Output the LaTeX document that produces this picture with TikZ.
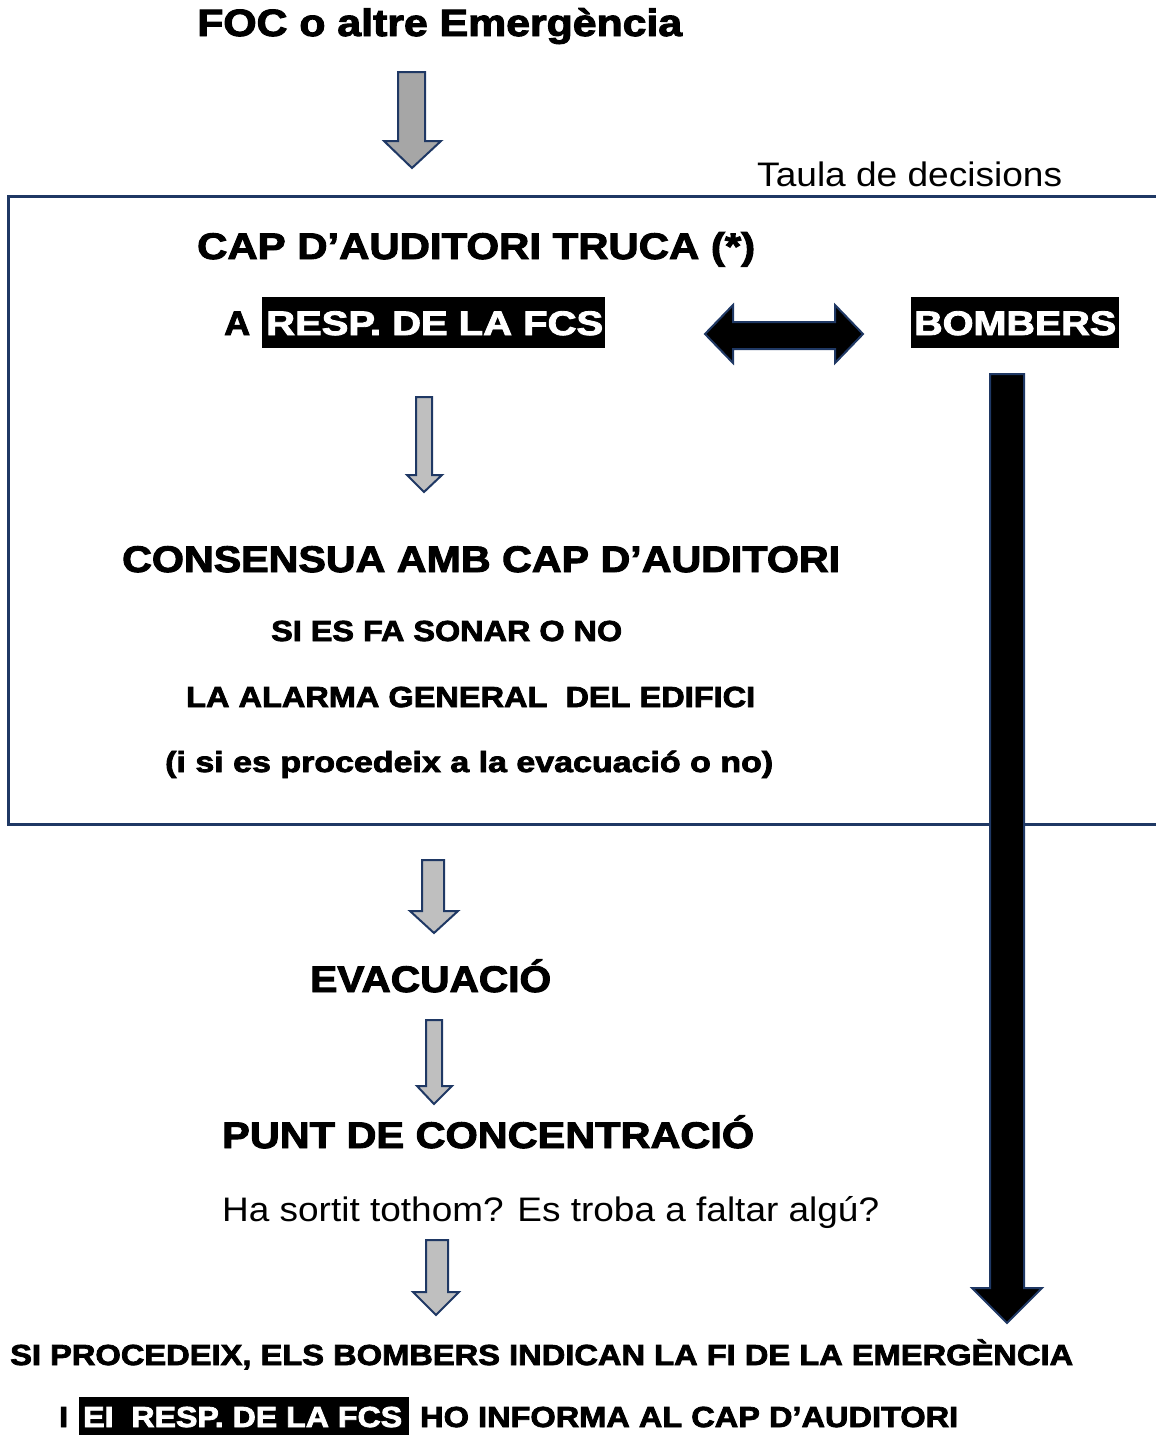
\documentclass[tikz,border=0pt]{standalone}
\usepackage{fontspec}
\setmainfont{Liberation Sans}
\newfontfamily\blk{Liberation Sans}[BoldFeatures={FakeBold=2.5}]
\newlength\fwlen
\newcommand\fw[2]{\settowidth\fwlen{#2}\pgfmathsetmacro\fwsx{#1/\fwlen}\scalebox{\fwsx}[1]{#2}}
\definecolor{navy}{HTML}{1F3864}
\definecolor{grayA}{HTML}{A6A6A6}
\definecolor{grayB}{HTML}{BFBFBF}
\tikzset{
  txt/.style={inner sep=0pt, anchor=base west, font=\blk\bfseries},
  reg/.style={inner sep=0pt, anchor=base west, font=\rmfamily},
  grayarrow/.style={fill=grayB, draw=navy, line width=2pt, line join=miter},
  blackarrow/.style={fill=black, draw=navy, line width=2pt, line join=miter},
  hilite/.style={fill=black, draw=none},
  frame/.style={draw=navy, line width=3pt}
}
\begin{document}
\begin{tikzpicture}[x=1pt,y=-1pt]
\useasboundingbox (0,0) rectangle (1156,1435);
% frame
\draw[frame] (1160,196) -- (8,196) -- (8,824) -- (1160,824);

% texts
\node[txt] (title) at (197,36) {\fontsize{38}{38}\selectfont\fw{485}{FOC o altre Emergència}};
\node[reg] (taula) at (757,186) {\fontsize{34}{34}\selectfont\fw{305}{Taula de decisions}};
\node[txt] (cap) at (197,259) {\fontsize{37}{37}\selectfont\fw{558}{CAP D’AUDITORI TRUCA (*)}};
\node[txt] (a) at (224,335) {\fontsize{34}{34}\selectfont\fw{26}{A}};
\fill[hilite] (262,297) rectangle (605,348);
\node[txt, text=white] (resp) at (266,335) {\fontsize{34}{34}\selectfont\fw{337}{RESP. DE LA FCS}};
\fill[hilite] (911,297) rectangle (1119,348);
\node[txt, text=white] (bombers) at (914,335) {\fontsize{34}{34}\selectfont\fw{202}{BOMBERS}};
\node[txt] (consensua) at (122,572) {\fontsize{37}{37}\selectfont\fw{718}{CONSENSUA AMB CAP D’AUDITORI}};
\node[txt] (sonar) at (271,641) {\fontsize{29}{29}\selectfont\fw{351}{SI ES FA SONAR O NO}};
\node[txt] (alarma) at (186,707) {\fontsize{29}{29}\selectfont\fw{569}{LA ALARMA GENERAL\ \ DEL EDIFICI}};
\node[txt] (evac1) at (165,772) {\fontsize{29}{29}\selectfont\fw{608}{(i si es procedeix a la evacuació o no)}};
\node[txt] (evac) at (310,992) {\fontsize{37}{37}\selectfont\fw{241}{EVACUACIÓ}};
\node[txt] (punt) at (222,1148) {\fontsize{37}{37}\selectfont\fw{532}{PUNT DE CONCENTRACIÓ}};
\node[reg] (sortit) at (222,1221) {\fontsize{34}{34}\selectfont\fw{657}{Ha sortit tothom? Es troba a faltar algú?}};
\node[txt] (proc) at (10,1365) {\fontsize{29}{29}\selectfont\fw{1063}{SI PROCEDEIX, ELS BOMBERS INDICAN LA FI DE LA EMERGÈNCIA}};
\node[txt] (i) at (59,1427) {\fontsize{29}{29}\selectfont\fw{9}{I}};
\fill[hilite] (79,1397) rectangle (409,1436);
\node[txt, text=white] (resp2) at (83,1427) {\fontsize{29}{29}\selectfont\fw{319}{EI\ \ RESP. DE LA FCS}};
\node[txt] (info) at (420,1427) {\fontsize{29}{29}\selectfont\fw{538}{HO INFORMA AL CAP D’AUDITORI}};

% arrows
\draw[grayarrow, fill=grayA] (398,72) -- (425,72) -- (425,141) -- (441,141) -- (412,168) -- (384,141) -- (398,141) -- cycle;
\draw[grayarrow] (416,397) -- (432,397) -- (432,475) -- (442,475) -- (424,492) -- (407,475) -- (416,475) -- cycle;
\draw[grayarrow] (422,860) -- (444,860) -- (444,911) -- (458,911) -- (434,933) -- (410,911) -- (422,911) -- cycle;
\draw[grayarrow] (426,1020) -- (442,1020) -- (442,1086) -- (452,1086) -- (434,1104) -- (417,1086) -- (426,1086) -- cycle;
\draw[grayarrow] (426,1240) -- (448,1240) -- (448,1292) -- (459,1292) -- (436,1315) -- (413,1292) -- (426,1292) -- cycle;
\draw[blackarrow] (705,334) -- (733,305) -- (733,322) -- (835,322) -- (835,305) -- (863,334) -- (835,363) -- (835,349) -- (733,349) -- (733,363) -- cycle;
\draw[blackarrow] (990,374) -- (1024,374) -- (1024,1288) -- (1042,1288) -- (1007,1323) -- (972,1288) -- (990,1288) -- cycle;
\end{tikzpicture}
\end{document}
